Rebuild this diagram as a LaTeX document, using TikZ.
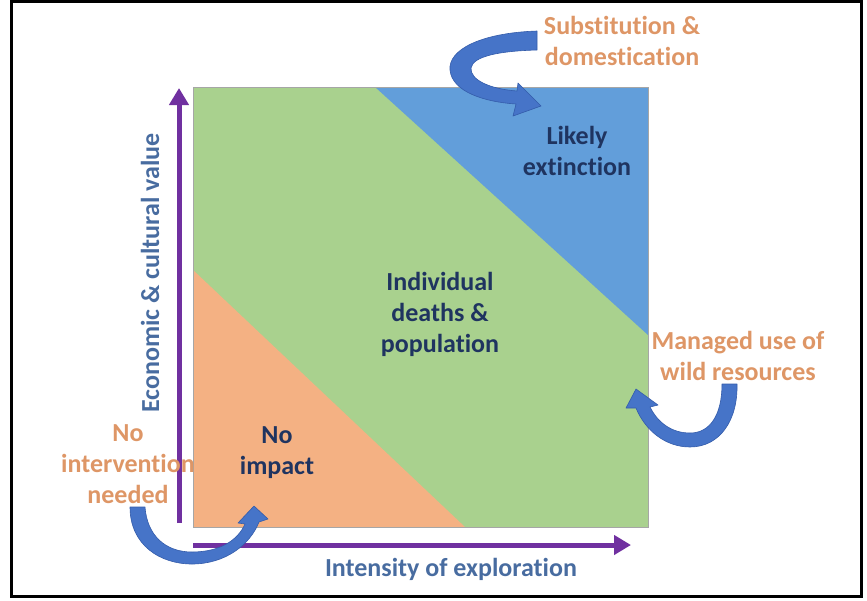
\documentclass[tikz,border=0pt]{standalone}
\usepackage{fontspec}
\setmainfont{Carlito}[Ligatures={NoCommon}]
\usetikzlibrary{arrows.meta}
\definecolor{zgreen}{RGB}{169,209,142}
\definecolor{zorange}{RGB}{244,177,131}
\definecolor{zblue}{RGB}{98,158,218}
\definecolor{zpurple}{RGB}{112,48,160}
\definecolor{labor}{RGB}{222,150,102}
\definecolor{labin}{RGB}{31,52,96}
\definecolor{labax}{RGB}{72,108,160}
\definecolor{carrow}{RGB}{70,116,200}
\definecolor{carrowd}{RGB}{52,92,170}
\begin{document}
\begin{tikzpicture}[x=1pt,y=-1pt,
  axisarrow/.style={draw=zpurple, line width=5pt, -{Triangle[width=19pt,length=17pt]}},
  lab/.style={font=\fontsize{26}{31}\selectfont\bfseries, align=center, inner sep=0pt},
  curvearrow/.style={fill=carrow, draw=carrowd, line width=0.6pt, line join=round}]
\useasboundingbox (0,0) rectangle (867,600);
\draw[line width=3pt] (11.5,1.5) rectangle (861,596);
% regions
\fill[zgreen] (193,87) rectangle (648,527);
\fill[zorange] (193,270) -- (465,527) -- (193,527) -- cycle;
\fill[zblue] (375,87) -- (648,87) -- (648,335) -- cycle;
\draw[black!35, line width=0.8pt] (193,87) rectangle (648,527);
% axes
\coordinate (yo) at (179,523);
\coordinate (ytip) at (179,88);
\coordinate (xo) at (193,545);
\coordinate (xtip) at (631,545);
\draw[axisarrow] (yo) -- (ytip);
\draw[axisarrow] (xo) -- (xtip);
% curved arrows
\path[curvearrow] (537,31) .. controls (480,33) and (448,50) .. (450,70)
  .. controls (452,92) and (485,102) .. (516,104) -- (513,116) -- (541,106)
  -- (518,83) -- (517,91) .. controls (490,89) and (470,80) .. (471,68)
  .. controls (473,56) and (500,51) .. (537,50) -- cycle;
\path[curvearrow] (737,384) .. controls (738,420) and (720,447) .. (690,447)
  .. controls (665,447) and (645,430) .. (636,408) -- (626,408) -- (636,389)
  -- (658,405) -- (650,407) .. controls (658,423) and (672,433) .. (690,433)
  .. controls (710,433) and (722,415) .. (722,384) -- cycle;
\path[curvearrow] (130,507) .. controls (130,545) and (160,564) .. (192,564)
  .. controls (225,564) and (250,545) .. (259,522) -- (268,519) -- (254,506)
  -- (238,523) -- (245,524) .. controls (238,540) and (220,552) .. (192,552)
  .. controls (165,552) and (147,535) .. (145,507) -- cycle;
% labels
\node[lab, text=labor] (subst) at (622,41) {Substitution \&\\domestication};
\node[lab, text=labin] (likely) at (577,151) {Likely\\extinction};
\node[lab, text=labin] (indiv) at (440,314) {Individual\\deaths \&\\population};
\node[lab, text=labor] (managed) at (738,356) {Managed use of\\wild resources};
\node[lab, text=labin] (noimp) at (277,453) {No\\impact};
\node[lab, text=labor] (noint) at (128,464) {No\\intervention\\needed};
\node[lab, text=labax] (xlab) at (451,569) {Intensity of exploration};
\node[lab, text=labax, rotate=90] (ylab) at (150,273) {Economic \& cultural value};
\end{tikzpicture}
\end{document}
